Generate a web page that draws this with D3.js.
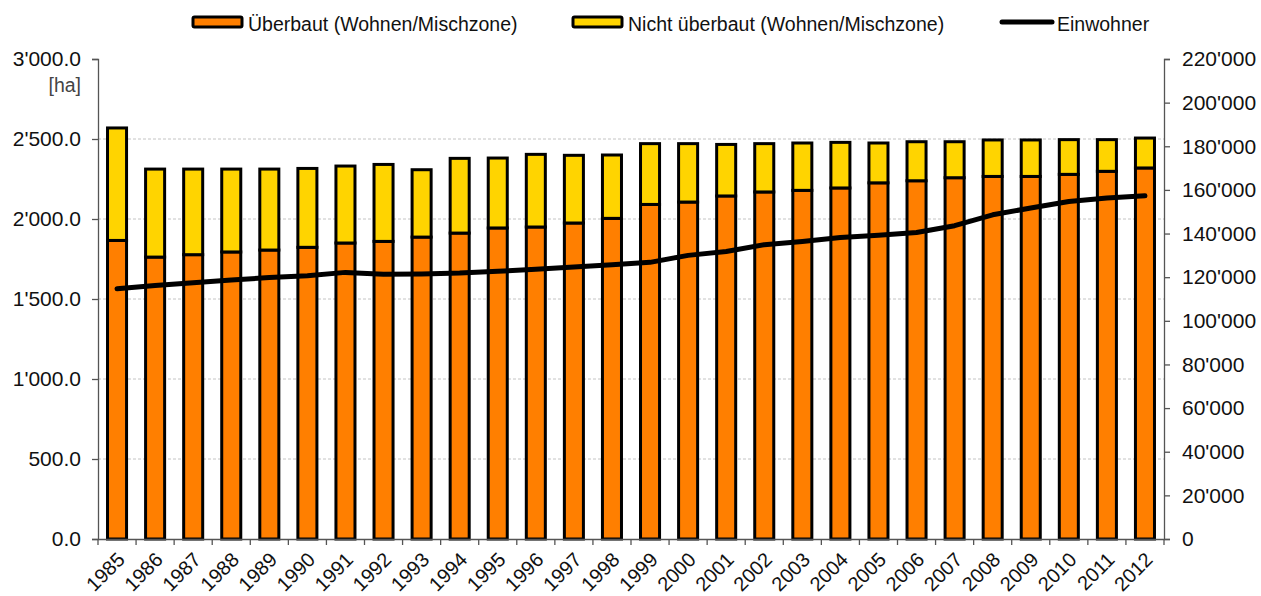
<!DOCTYPE html>
<html>
<head>
<meta charset="utf-8">
<script src="https://cdn.jsdelivr.net/npm/d3@7"></script>
<style>
  body { margin: 0; background: #fff; }
  svg text { font-family: "Liberation Sans", Arial, sans-serif; }
</style>
</head>
<body>
<div id="chart"></div>
<script>
var years = ["1985","1986","1987","1988","1989","1990","1991","1992","1993","1994",
  "1995","1996","1997","1998","1999","2000","2001","2002","2003","2004",
  "2005","2006","2007","2008","2009","2010","2011","2012"];

// Wohn-/Mischzone [ha]: überbaut und total (überbaut + nicht überbaut)
var ueberbaut = [1866,1762,1777,1794,1806,1823,1850,1860,1887,1912,
  1944,1950,1975,2004,2091,2106,2144,2169,2179,2194,
  2226,2239,2258,2266,2266,2279,2298,2319];
var total = [2569,2312,2312,2312,2312,2316,2331,2341,2308,2379,
  2381,2404,2398,2400,2471,2471,2466,2471,2475,2479,
  2475,2483,2483,2494,2494,2496,2496,2506];
var nichtUeberbaut = total.map(function(t, i) { return t - ueberbaut[i]; });

var einwohner = [114700,116200,117500,118700,119800,120700,122200,121300,121500,121900,
  122700,123600,124700,125700,126800,130000,131800,134900,136400,138200,
  139200,140500,143600,148600,151700,154700,156300,157300];

var leftTicks = [0,500,1000,1500,2000,2500,3000];
var rightTicks = [0,20000,40000,60000,80000,100000,120000,140000,160000,180000,200000,220000];

var width = 1261, height = 596;
var margin = {top: 59, right: 97, bottom: 57, left: 98};

var svg = d3.select("#chart").append("svg")
  .attr("width", width)
  .attr("height", height);

var x = d3.scaleBand()
  .domain(years)
  .range([margin.left, width - margin.right])
  .paddingInner(0.5)
  .paddingOuter(0.25);

var y = d3.scaleLinear()
  .domain([0, 3000])
  .range([height - margin.bottom, margin.top]);

var y2 = d3.scaleLinear()
  .domain([0, 220000])
  .range([height - margin.bottom, margin.top]);

var fmt = function(v, dec) {
  return d3.format(",." + dec + "f")(v).replace(/,/g, "'");
};

// gridlines
svg.append("g")
  .selectAll("line")
  .data(leftTicks.filter(function(d) { return d > 0 && d < 3000; }))
  .join("line")
  .attr("x1", margin.left)
  .attr("x2", width - margin.right)
  .attr("y1", function(d) { return y(d); })
  .attr("y2", function(d) { return y(d); })
  .attr("stroke", "#c4c4c4")
  .attr("stroke-width", 1)
  .attr("stroke-dasharray", "3,2");

// stacked bars
var stack = years.map(function(yr, i) {
  return {year: yr, a: ueberbaut[i], b: nichtUeberbaut[i]};
});

var bars = svg.append("g");
bars.selectAll("rect.ueb")
  .data(stack)
  .join("rect")
  .attr("class", "ueb")
  .attr("x", function(d) { return x(d.year); })
  .attr("width", x.bandwidth())
  .attr("y", function(d) { return y(d.a); })
  .attr("height", function(d) { return y(0) - y(d.a); })
  .attr("fill", "#ff7f00")
  .attr("stroke", "#000")
  .attr("stroke-width", 3);

bars.selectAll("rect.nicht")
  .data(stack)
  .join("rect")
  .attr("class", "nicht")
  .attr("x", function(d) { return x(d.year); })
  .attr("width", x.bandwidth())
  .attr("y", function(d) { return y(d.a + d.b); })
  .attr("height", function(d) { return y(d.a) - y(d.a + d.b); })
  .attr("fill", "#ffd400")
  .attr("stroke", "#000")
  .attr("stroke-width", 3);

// Einwohner line
var line = d3.line()
  .x(function(d, i) { return x(years[i]) + x.bandwidth() / 2; })
  .y(function(d) { return y2(d); });

svg.append("path")
  .datum(einwohner)
  .attr("d", line)
  .attr("fill", "none")
  .attr("stroke", "#000")
  .attr("stroke-width", 5)
  .attr("stroke-linecap", "round")
  .attr("stroke-linejoin", "round");

// axes
var axisColor = "#555";

var leftAxis = svg.append("g")
  .attr("transform", "translate(" + margin.left + ",0)")
  .call(d3.axisLeft(y).tickValues(leftTicks).tickSize(6).tickPadding(11)
    .tickFormat(function(d) { return fmt(d, 1); }));

var rightAxis = svg.append("g")
  .attr("transform", "translate(" + (width - margin.right) + ",0)")
  .call(d3.axisRight(y2).tickValues(rightTicks).tickSize(6).tickPadding(12)
    .tickFormat(function(d) { return fmt(d, 0); }));

var bottomAxis = svg.append("g")
  .attr("transform", "translate(0," + (height - margin.bottom) + ")")
  .call(d3.axisBottom(x).tickSize(0).tickFormat(""));

[leftAxis, rightAxis, bottomAxis].forEach(function(g) {
  g.select(".domain").attr("stroke", axisColor).attr("stroke-width", 1.3);
  g.selectAll(".tick line").attr("stroke", axisColor).attr("stroke-width", 1.3);
  g.selectAll("text").attr("font-size", 21).attr("fill", "#111")
    .attr("font-family", "'Liberation Sans', Arial, sans-serif");
});

// x ticks at category boundaries
var step = x.step();
bottomAxis.selectAll("line.sep")
  .data(d3.range(years.length + 1))
  .join("line")
  .attr("class", "sep")
  .attr("x1", function(i) { return margin.left + i * step; })
  .attr("x2", function(i) { return margin.left + i * step; })
  .attr("y1", 0)
  .attr("y2", 6)
  .attr("stroke", axisColor)
  .attr("stroke-width", 1.3);

// rotated year labels
svg.append("g")
  .selectAll("text")
  .data(years)
  .join("text")
  .attr("transform", function(d) {
    return "translate(" + (x(d) + x.bandwidth() / 2 + 9) + "," + (height - margin.bottom + 22) + ") rotate(-45)";
  })
  .attr("text-anchor", "end")
  .attr("font-size", 20)
  .attr("fill", "#111")
  .text(function(d) { return d; });

// unit label
svg.append("text")
  .attr("x", 81)
  .attr("y", 92)
  .attr("text-anchor", "end")
  .attr("font-size", 19.5)
  .attr("fill", "#444")
  .text("[ha]");

// legend
var legend = svg.append("g");
var legendItems = [
  {label: "Überbaut (Wohnen/Mischzone)", x: 193, type: "rect", color: "#ff7f00"},
  {label: "Nicht überbaut (Wohnen/Mischzone)", x: 573, type: "rect", color: "#ffd400"},
  {label: "Einwohner", x: 1002, type: "line", color: "#000"}
];
legendItems.forEach(function(it) {
  if (it.type === "rect") {
    legend.append("rect")
      .attr("x", it.x).attr("y", 17)
      .attr("width", 49).attr("height", 10)
      .attr("rx", 1.5)
      .attr("fill", it.color)
      .attr("stroke", "#000")
      .attr("stroke-width", 3);
  } else {
    legend.append("line")
      .attr("x1", it.x).attr("x2", it.x + 50)
      .attr("y1", 22).attr("y2", 22)
      .attr("stroke", it.color)
      .attr("stroke-width", 5)
      .attr("stroke-linecap", "round");
  }
  legend.append("text")
    .attr("x", it.x + 55)
    .attr("y", 31)
    .attr("font-size", 19.5)
    .attr("fill", "#111")
    .text(it.label);
});
</script>
</body>
</html>
